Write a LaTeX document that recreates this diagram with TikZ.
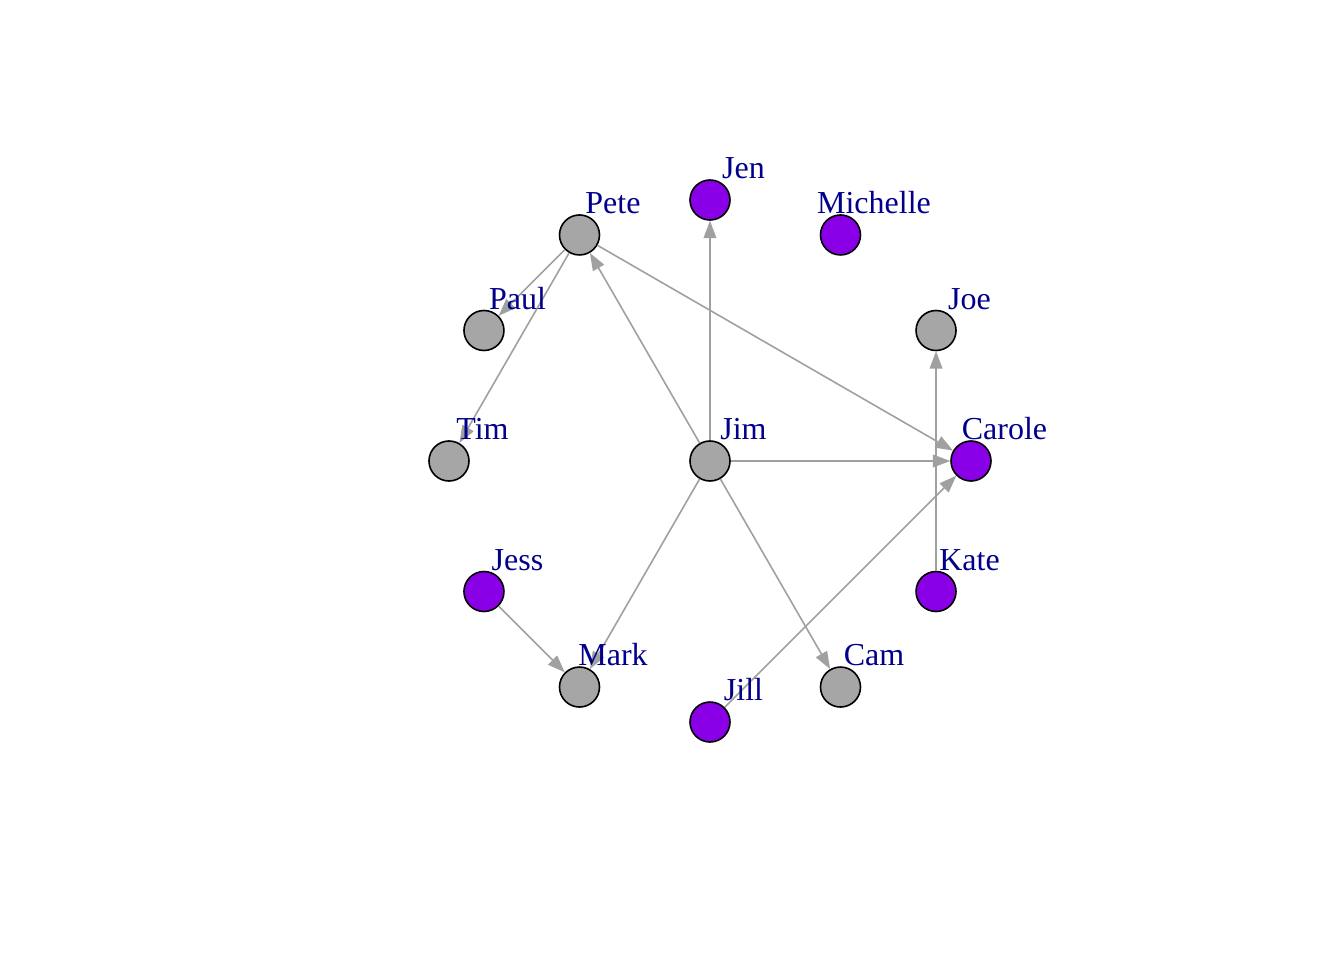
\documentclass[tikz,border=0pt]{standalone}
\usepackage{fontspec}
\setmainfont{Liberation Serif}
\usetikzlibrary{arrows.meta,calc}

\definecolor{vgray}{HTML}{A6A6A6}
\definecolor{vpurple}{HTML}{8A00E6}
\definecolor{egray}{HTML}{A0A0A0}
\definecolor{lblue}{HTML}{00008B}

\tikzset{
  vertex/.style={circle, draw=black, line width=1.2pt, minimum size=30pt, inner sep=0pt},
  lbl/.style={text=lblue, font=\fontsize{24}{28}\selectfont, inner sep=0pt, text height=0.66em, text depth=0pt},
  edge/.style={draw=egray, line width=1.2pt, -{Triangle[length=13pt,width=9.5pt]}}
}

\begin{document}
\begin{tikzpicture}[x=0.75pt,y=0.75pt]

  % Marco de la imagen
  \useasboundingbox (-710,-499) rectangle (634,461);

  % Vertices en el circulo
  \foreach \nm/\ang/\col in {carole/0/vpurple, joe/30/vgray, michelle/60/vpurple,
      jen/90/vpurple, pete/120/vgray, paul/150/vgray, tim/180/vgray, jess/210/vpurple,
      mark/240/vgray, jill/270/vpurple, cam/300/vgray, kate/330/vpurple} {
    \node[vertex, fill=\col] (\nm) at (\ang:261) {}; % Dibujar vertice
  }
  \node[vertex, fill=vgray] (jim) at (0,0) {}; % Vertice central

  % Aristas dirigidas
  \foreach \a/\b in {pete/paul, pete/tim, pete/carole, jim/pete, jim/jen,
      jim/carole, jim/mark, jim/cam, jill/carole, kate/joe, jess/mark} {
    \draw[edge] (\a) -- (\b);
  }

  % Etiquetas
  \foreach \nm/\txt in {carole/Carole, joe/Joe, michelle/Michelle, jen/Jen, pete/Pete,
      paul/Paul, tim/Tim, jess/Jess, mark/Mark, jill/Jill, cam/Cam, kate/Kate, jim/Jim} {
    \node[lbl] (\nm-lbl) at ($(\nm)+(33.5,25.5)$) {\txt};
  }

\end{tikzpicture}
\end{document}
